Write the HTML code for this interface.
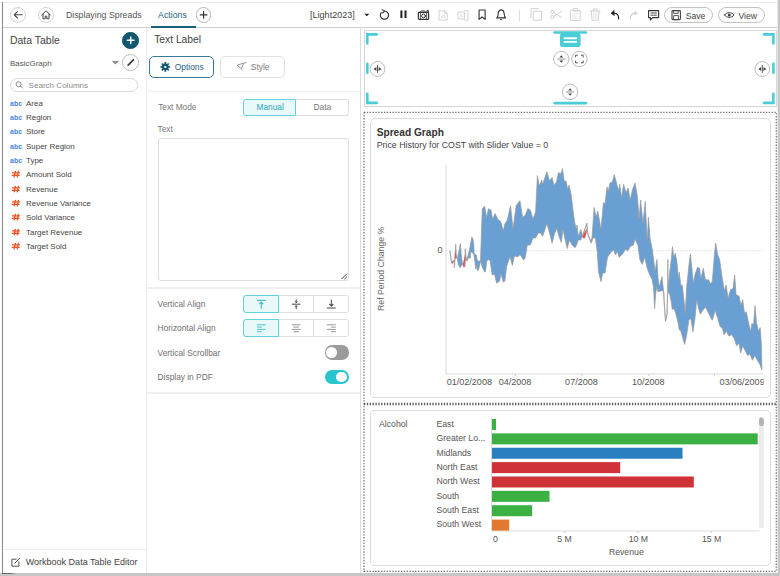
<!DOCTYPE html>
<html><head><meta charset="utf-8"><title>Displaying Spreads</title>
<style>
html,body{margin:0;padding:0;background:#fff}
body{width:780px;height:576px;position:relative;overflow:hidden;font-family:"Liberation Sans",sans-serif}
.b{position:absolute;display:block}
.t{position:absolute;white-space:nowrap;line-height:1;font-family:"Liberation Sans",sans-serif}
</style></head><body>
<div class="b" style="left:0;top:2px;width:778px;height:1px;background:#ececec"></div>
<div class="b" style="left:2px;top:2px;width:1px;height:571px;background:#85888c"></div>
<div class="b" style="left:777px;top:0;width:3px;height:576px;background:linear-gradient(90deg,#e9e9e9 0,#e9e9e9 33%,#c6c6c6 33%)"></div>
<div class="b" style="left:0;top:573px;width:780px;height:3px;background:#c6c6c6"></div>
<div class="b" style="left:2px;top:573px;width:14px;height:1px;background:linear-gradient(90deg,#666,#666 60%,#c6c6c6)"></div>
<div class="b" style="left:3px;top:27px;width:775px;height:1px;background:#cfcfcf"></div>
<div class="b" style="left:151px;top:25.7px;width:44.8px;height:2px;background:#1b5e7a"></div>
<div class="b" style="left:10.0px;top:6.6px;width:16.4px;height:16.4px;border-radius:50%;border:1px solid #d4d4d4;background:#fff;box-sizing:border-box"></div>
<div class="b" style="left:37.8px;top:6.6px;width:16.4px;height:16.4px;border-radius:50%;border:1px solid #d4d4d4;background:#fff;box-sizing:border-box"></div>
<div class="b" style="left:195.7px;top:6.9px;width:15.8px;height:15.8px;border-radius:50%;border:1px solid #b8b8b8;background:#fff;box-sizing:border-box"></div>
<div class="t" style="left:65.9px;top:11.00px;font-size:8.80px;color:#555;">Displaying Spreads</div>
<div class="t" style="left:158.1px;top:11.00px;font-size:8.78px;color:#1d6480;">Actions</div>
<div class="t" style="left:310.0px;top:11.00px;font-size:9.07px;color:#444;">[Light2023]</div>
<div class="b" style="left:663.9px;top:6.8px;width:48.8px;height:16.5px;border:1px solid #c2c2c2;border-radius:9px;box-sizing:border-box"></div>
<div class="b" style="left:717.5px;top:6.8px;width:47.3px;height:16.5px;border:1px solid #c2c2c2;border-radius:9px;box-sizing:border-box"></div>
<div class="t" style="left:685.7px;top:12.00px;font-size:8.65px;color:#444;">Save</div>
<div class="t" style="left:738.4px;top:12.00px;font-size:8.65px;color:#444;">View</div>
<div class="b" style="left:519px;top:10px;width:1px;height:11px;background:#dcdcdc"></div>
<svg class="b" style="left:0;top:0" width="780" height="28" viewBox="0 0 780 28" fill="none" stroke-linecap="round" stroke-linejoin="round">
<!-- back arrow -->
<path d="M22.3 14.8H14.2M17.4 11.6L14.2 14.8L17.4 18" stroke="#444" stroke-width="1.1"/>
<!-- home -->
<path d="M41.6 15L46 10.8L50.4 15M43 14.2V18.8H45.2V16.2H46.8V18.8H49V14.2" stroke="#444" stroke-width="1"/>
<!-- plus -->
<path d="M200.2 14.8H207M203.6 11.4V18.2" stroke="#333" stroke-width="1.2"/>
<!-- caret -->
<path d="M364.2 13.8H369.4L366.8 16.2Z" fill="#222" stroke="none"/>
<!-- refresh -->
<path d="M381.2 12.6A4.1 4.1 0 1 0 384.3 11" stroke="#333" stroke-width="1.2"/>
<path d="M382.2 9.6L384.6 11.1L382.6 13" stroke="#333" stroke-width="1.1"/>
<!-- pause -->
<path d="M401.4 10.6V18.1M405.5 10.6V18.1" stroke="#222" stroke-width="2" stroke-linecap="butt"/>
<!-- camera -->
<rect x="418.4" y="12.4" width="10.2" height="7" rx="0.8" stroke="#333" stroke-width="1.2"/>
<circle cx="423.5" cy="15.9" r="1.9" stroke="#333" stroke-width="1"/>
<path d="M420.4 12.4V19.4M426.6 12.4V19.4" stroke="#333" stroke-width="0.8"/>
<path d="M420.4 12.2L421.2 10.9H424.6L425.4 12.2M427 12V10.4H428.4V12" stroke="#333" stroke-width="0.9"/>
<!-- pdf (disabled) -->
<path d="M439.4 10.8H444.6L447.2 13.4V20H439.4Z M444.6 10.8V13.4H447.2" stroke="#d2d2d2" stroke-width="1"/>
<path d="M441.4 18L443.4 14.4L445.4 17.4H441.4" stroke="#e3c9c9" stroke-width="0.7"/>
<!-- excel (disabled) -->
<rect x="458.4" y="12" width="6" height="7" stroke="#d2d2d2" stroke-width="1"/>
<path d="M464.4 10.8H468V20.2H464.4" stroke="#d2d2d2" stroke-width="1"/>
<path d="M460 13.8L462.8 17.2M462.8 13.8L460 17.2" stroke="#d8d8d8" stroke-width="0.8"/>
<!-- bookmark -->
<path d="M479.1 10H485.1V19.4L482.1 17L479.1 19.4Z" stroke="#333" stroke-width="1.1"/>
<!-- bell -->
<path d="M496.8 17.9C498.4 16.6 498 14.4 498.4 12.6C498.8 11 499.9 9.9 501.2 9.9C502.5 9.9 503.6 11 504 12.6C504.4 14.4 504 16.6 505.6 17.9Z" stroke="#333" stroke-width="1.1"/>
<path d="M500.2 19.3C500.6 20 501.8 20 502.2 19.3" stroke="#333" stroke-width="1"/>
<!-- copy (disabled) -->
<path d="M531 17.6V8.6H538.4" stroke="#d2d2d2" stroke-width="1"/>
<rect x="533.6" y="11.2" width="8" height="9" stroke="#d2d2d2" stroke-width="1"/>
<!-- scissors (disabled) -->
<circle cx="552.2" cy="11.8" r="1.6" stroke="#d2d2d2" stroke-width="1"/>
<circle cx="552.2" cy="17" r="1.6" stroke="#d2d2d2" stroke-width="1"/>
<path d="M553.6 12.6L561.8 17.6M553.6 16.2L561.8 11.2" stroke="#d2d2d2" stroke-width="1"/>
<!-- clipboard (disabled) -->
<rect x="570.8" y="10.4" width="9.4" height="10" stroke="#d2d2d2" stroke-width="1"/>
<rect x="573.6" y="8.6" width="3.8" height="2.6" stroke="#d2d2d2" stroke-width="1"/>
<path d="M572.8 14H578M572.8 16H576.4M572.8 18H577" stroke="#dcdcdc" stroke-width="0.8"/>
<!-- trash (disabled) -->
<path d="M590.2 11H600.2M593.4 10.8V9H597V10.8M591.4 11.6L592 20.2H598.4L599 11.6" stroke="#d2d2d2" stroke-width="1"/>
<path d="M593.6 13V18.4M595.2 13V18.4M596.8 13V18.4" stroke="#dedede" stroke-width="0.8"/>
<!-- undo -->
<path d="M612 13.2H614.6C617.4 13.4 618.8 15.8 618.6 19" stroke="#222" stroke-width="1.15"/>
<path d="M614 10.4L611 13.2L614.2 15.4Z" fill="#222" stroke="#222" stroke-width="0.5"/>
<!-- redo (disabled) -->
<path d="M637 13.4H634C631.6 13.6 630.4 15.8 630.4 19" stroke="#cfcfcf" stroke-width="1.1"/>
<path d="M634.6 10.8L637.4 13.4L634.4 15.6Z" fill="#cfcfcf" stroke="none"/>
<!-- comment -->
<path d="M648.6 10.6H658.6V17.6H652.6L650.4 20V17.6H648.6Z" stroke="#333" stroke-width="1.1"/>
<path d="M651 13H656.4M651 15.2H653M654 15.2H656.4" stroke="#333" stroke-width="0.9"/>
<!-- save icon -->
<rect x="672" y="10.6" width="8.4" height="9" rx="0.8" stroke="#444" stroke-width="1.1"/>
<rect x="674" y="10.6" width="4.2" height="2.8" stroke="#444" stroke-width="0.9"/>
<rect x="674" y="15.6" width="4.4" height="4" stroke="#444" stroke-width="0.9"/>
<!-- eye icon -->
<path d="M724.6 15C726.6 11.8 731.8 11.8 734 15C731.8 18.2 726.6 18.2 724.6 15Z" stroke="#444" stroke-width="1"/>
<circle cx="729.3" cy="15" r="1.5" fill="#444" stroke="none"/>
</svg>
<div class="b" style="left:145.5px;top:28px;width:1.5px;height:545px;background:#ededed"></div>
<div class="t" style="left:10.0px;top:36.00px;font-size:10.46px;color:#444;">Data Table</div>
<div class="b" style="left:122.4px;top:32.0px;width:16.6px;height:16.6px;border-radius:50%;border:1px solid #11566f;background:#11566f;box-sizing:border-box"></div>
<div class="b" style="left:122.4px;top:54.2px;width:16.6px;height:16.6px;border-radius:50%;border:1px solid #bdbdbd;background:#fff;box-sizing:border-box"></div>
<div class="t" style="left:10.0px;top:60.00px;font-size:7.98px;color:#555;">BasicGraph</div>
<div class="b" style="left:10px;top:77.6px;width:128.2px;height:14.6px;border:1px solid #d9d9d9;border-radius:8px;box-sizing:border-box"></div>
<div class="t" style="left:28.6px;top:82.00px;font-size:8.06px;color:#8a8a8a;">Search Columns</div>
<svg class="b" style="left:100px;top:30px" width="46" height="66" viewBox="100 30 46 66" fill="none" stroke-linecap="round">
<path d="M127.4 40.3H134M130.7 37V43.6" stroke="#fff" stroke-width="1.5"/>
<path d="M111.8 60.9H119L115.4 64.6Z" fill="#8d8d8d"/>
<path d="M127.2 66L127.8 64.2L133.3 58.7L134.5 59.9L129 65.4Z" fill="#333"/>
</svg>
<svg class="b" style="left:12px;top:78px" width="16" height="14" viewBox="12 78 16 14" fill="none">
<circle cx="18.6" cy="84.2" r="2.5" stroke="#8a8a8a" stroke-width="1"/><path d="M20.5 86.1L22.4 88" stroke="#8a8a8a" stroke-width="1" stroke-linecap="round"/></svg>
<div class="t" style="left:10.0px;top:101.00px;font-size:7.08px;color:#4a86e8;font-weight:bold;">abc</div>
<div class="t" style="left:26.0px;top:100.00px;font-size:7.98px;color:#444;">Area</div>
<div class="t" style="left:10.0px;top:115.00px;font-size:7.08px;color:#4a86e8;font-weight:bold;">abc</div>
<div class="t" style="left:26.0px;top:114.00px;font-size:7.98px;color:#444;">Region</div>
<div class="t" style="left:10.0px;top:129.00px;font-size:7.08px;color:#4a86e8;font-weight:bold;">abc</div>
<div class="t" style="left:26.0px;top:128.00px;font-size:7.98px;color:#444;">Store</div>
<div class="t" style="left:10.0px;top:144.00px;font-size:7.08px;color:#4a86e8;font-weight:bold;">abc</div>
<div class="t" style="left:26.0px;top:143.00px;font-size:7.98px;color:#444;">Super Region</div>
<div class="t" style="left:10.0px;top:158.00px;font-size:7.08px;color:#4a86e8;font-weight:bold;">abc</div>
<div class="t" style="left:26.0px;top:157.00px;font-size:7.98px;color:#444;">Type</div>
<div class="t" style="left:26.0px;top:171.00px;font-size:7.98px;color:#444;">Amount Sold</div>
<div class="t" style="left:26.0px;top:186.00px;font-size:7.98px;color:#444;">Revenue</div>
<div class="t" style="left:26.0px;top:200.00px;font-size:7.98px;color:#444;">Revenue Variance</div>
<div class="t" style="left:26.0px;top:214.00px;font-size:7.98px;color:#444;">Sold Variance</div>
<div class="t" style="left:26.0px;top:229.00px;font-size:7.98px;color:#444;">Target Revenue</div>
<div class="t" style="left:26.0px;top:243.00px;font-size:7.98px;color:#444;">Target Sold</div>
<svg class="b" style="left:10px;top:165px" width="12" height="90" viewBox="10 165 12 90" fill="none" stroke="#f4511e" stroke-width="1.3"><path d="M12 172.8H19.9M11.7 175.3H19.6M15.4 170.8L14.1 177.4M18.5 170.8L17.2 177.4"/><path d="M12 187.8H19.9M11.7 190.3H19.6M15.4 185.8L14.1 192.4M18.5 185.8L17.2 192.4"/><path d="M12 201.8H19.9M11.7 204.3H19.6M15.4 199.8L14.1 206.4M18.5 199.8L17.2 206.4"/><path d="M12 215.8H19.9M11.7 218.3H19.6M15.4 213.8L14.1 220.4M18.5 213.8L17.2 220.4"/><path d="M12 230.8H19.9M11.7 233.3H19.6M15.4 228.8L14.1 235.4M18.5 228.8L17.2 235.4"/><path d="M12 244.8H19.9M11.7 247.3H19.6M15.4 242.8L14.1 249.4M18.5 242.8L17.2 249.4"/></svg>
<div class="b" style="left:4px;top:549px;width:141.5px;height:1px;background:#efefef"></div>
<div class="t" style="left:25.7px;top:558.00px;font-size:9.02px;color:#444;">Workbook Data Table Editor</div>
<svg class="b" style="left:10px;top:556px" width="12" height="12" viewBox="10 556 12 12" fill="none" stroke="#555" stroke-width="1" stroke-linecap="round" stroke-linejoin="round">
<path d="M16.2 559.2H11.9V566.2H18.9V562"/><path d="M15 563L19.6 558.2"/></svg>
<div class="t" style="left:154.2px;top:35.00px;font-size:10.29px;color:#444;">Text Label</div>
<div class="b" style="left:149.1px;top:55.5px;width:65.1px;height:22.2px;border:1px solid #3a7a93;border-radius:5px;box-sizing:border-box"></div>
<div class="b" style="left:220.3px;top:55.6px;width:65.1px;height:22px;border:1px solid #e2e2e2;border-radius:5px;box-sizing:border-box"></div>
<div class="t" style="left:174.7px;top:63.00px;font-size:8.44px;color:#1d6480;">Options</div>
<div class="t" style="left:250.8px;top:63.00px;font-size:8.44px;color:#7a7a7a;">Style</div>
<svg class="b" style="left:158px;top:60px" width="95" height="14" viewBox="158 60 95 14" fill="none">
<g transform="translate(165.3 66.9)"><circle r="2.2" fill="none" stroke="#11566f" stroke-width="2.4"/><g stroke="#11566f" stroke-width="1.7" stroke-linecap="butt">
<path d="M0 -4.8V-3M0 4.8V3M-4.8 0H-3M4.8 0H3M-3.4 -3.4L-2.1 -2.1M3.4 3.4L2.1 2.1M-3.4 3.4L-2.1 2.1M3.4 -3.4L2.1 -2.1"/></g><circle r="1" fill="#fff"/></g>
<path d="M237 65.2L243.6 63.2L241.4 68.6L239.4 67.2ZM243.6 63.2L246.4 62.4M241.2 68.8L242.6 70.4" stroke="#8a8a8a" stroke-width="0.9" stroke-linejoin="round"/>
</svg>
<div class="b" style="left:147px;top:90.5px;width:213px;height:1.5px;background:#efefef"></div>
<div class="b" style="left:147px;top:287px;width:213px;height:1.5px;background:#efefef"></div>
<div class="b" style="left:147px;top:392px;width:213px;height:1.5px;background:#efefef"></div>
<div class="b" style="left:360px;top:28px;width:1px;height:545px;background:#dcdcdc"></div>
<div class="t" style="left:158.2px;top:103.00px;font-size:8.30px;color:#777;">Text Mode</div>
<div class="b" style="left:296.4px;top:98.7px;width:52.3px;height:16.9px;border:1px solid #dedede;border-left:none;border-radius:0 3px 3px 0;box-sizing:border-box"></div>
<div class="b" style="left:243.2px;top:98.7px;width:53.2px;height:16.9px;border:1px solid #62d2da;background:#e9f9fa;border-radius:3px 0 0 3px;box-sizing:border-box"></div>
<div class="t" style="left:256.5px;top:103.00px;font-size:8.35px;color:#2ba7b6;">Manual</div>
<div class="t" style="left:313.5px;top:103.00px;font-size:8.35px;color:#777;">Data</div>
<div class="t" style="left:157.5px;top:125.00px;font-size:8.30px;color:#777;">Text</div>
<div class="b" style="left:157.5px;top:137.7px;width:191.2px;height:143.6px;border:1px solid #dcdcdc;border-radius:3px;box-sizing:border-box"></div>
<svg class="b" style="left:340px;top:272px" width="8" height="8" viewBox="340 272 8 8" style="overflow:visible"><path d="M341.6 279L346.8 273.8M344.4 279.2L347 276.6" stroke="#333" stroke-width="0.9"/></svg>
<div class="t" style="left:157.6px;top:300.00px;font-size:8.35px;color:#707070;">Vertical Align</div>
<div class="t" style="left:157.6px;top:324.00px;font-size:8.35px;color:#707070;">Horizontal Align</div>
<div class="t" style="left:157.6px;top:349.00px;font-size:8.35px;color:#707070;">Vertical Scrollbar</div>
<div class="t" style="left:157.6px;top:373.00px;font-size:8.35px;color:#707070;">Display in PDF</div>
<div class="b" style="left:243.3px;top:295.2px;width:105.4px;height:17.6px;border:1px solid #dedede;border-radius:3px;box-sizing:border-box"></div>
<div class="b" style="left:313.4px;top:295.2px;width:1px;height:17.6px;background:#dedede"></div>
<div class="b" style="left:243.3px;top:295.2px;width:35.8px;height:17.6px;border:1px solid #62d2da;background:#e9f9fa;border-radius:3px 0 0 3px;box-sizing:border-box"></div>
<div class="b" style="left:243.3px;top:319.2px;width:105.4px;height:17.6px;border:1px solid #dedede;border-radius:3px;box-sizing:border-box"></div>
<div class="b" style="left:313.4px;top:319.2px;width:1px;height:17.6px;background:#dedede"></div>
<div class="b" style="left:243.3px;top:319.2px;width:35.8px;height:17.6px;border:1px solid #62d2da;background:#e9f9fa;border-radius:3px 0 0 3px;box-sizing:border-box"></div>
<svg class="b" style="left:243px;top:295px" width="106" height="42" viewBox="243 295 106 42" fill="none" stroke-linecap="butt">
<g stroke="#2bb3c0" stroke-width="1"><path d="M257 300.3H265.6M261.3 302.4V308.6"/><path d="M259.4 304.2L261.3 302.2L263.2 304.2" stroke-width="1.1"/></g>
<g stroke="#444" stroke-width="1"><path d="M291.8 304.2H300.6"/><path d="M296.2 299.4V302.6M296.2 305.8V309"/><path d="M294.9 301.3L296.2 302.8L297.5 301.3M294.9 307.1L296.2 305.6L297.5 307.1" stroke-width="0.9"/></g>
<g stroke="#444" stroke-width="1"><path d="M326.8 308H335.8M331.3 299.6V305.8"/><path d="M329.4 304L331.3 306L333.2 304" stroke-width="1.1"/></g>
<g stroke="#3cc0cb" stroke-width="0.9"><path d="M257 324.8H265.6M257 327.1H261.8M257 329.4H265.6M257 331.7H261.8"/></g>
<g stroke="#8a8a8a" stroke-width="0.9"><path d="M291.8 324.8H300.6M293.4 327.1H299M291.8 329.4H300.6M293.4 331.7H299"/></g>
<g stroke="#8a8a8a" stroke-width="0.9"><path d="M326.8 324.8H335.8M331 327.1H335.8M326.8 329.4H335.8M331 331.7H335.8"/></g>
</svg>
<div class="b" style="left:324.5px;top:345.2px;width:24.2px;height:14.4px;border-radius:7.2px;background:#9b9b9b"></div>
<div class="b" style="left:326.2px;top:347px;width:10.8px;height:10.8px;border-radius:50%;background:#fff"></div>
<div class="b" style="left:324.5px;top:369.7px;width:24.2px;height:14.4px;border-radius:7.2px;background:#29c5cf"></div>
<div class="b" style="left:336.3px;top:371.5px;width:10.8px;height:10.8px;border-radius:50%;background:#fff"></div>
<div class="b" style="left:364px;top:30px;width:413px;height:77px;border:1px solid #d6d6d6;box-sizing:border-box"></div>
<svg class="b" style="left:364px;top:30px" width="414" height="78" viewBox="364 30 414 78" fill="none">
<g stroke="#49cdd6" stroke-width="2.6" stroke-linecap="round" stroke-linejoin="miter">
<path d="M367.3 43.5V34.4H376.8"/><path d="M367.3 93.8V102.9H376.8"/>
<path d="M773.4 43.5V34.4H764"/><path d="M773.4 93.8V102.9H764"/>
<path d="M367.3 63.8V72.8"/><path d="M773.4 63.8V72.8"/>
<path d="M554.6 32.5H586"/><path d="M554.6 103.1H586"/>
</g>
<rect x="560" y="33.1" width="20.6" height="14" rx="3.2" fill="#49cdd6"/>
<path d="M564.4 38.3H576.4M564.4 41.9H576.4" stroke="#fff" stroke-width="1.9" stroke-linecap="round"/>
<g stroke="#bdbdbd" stroke-width="1" fill="#fff"><circle cx="377.5" cy="69" r="7.4"/><circle cx="762.3" cy="69" r="7.4"/><circle cx="561.3" cy="59" r="7.7"/><circle cx="579.4" cy="59" r="7.7"/><circle cx="570.1" cy="91.9" r="7.7"/></g>
<g stroke="#444" stroke-width="0.9"><path d="M377.5 65.2V72.8M762.3 65.2V72.8"/><path d="M557.2 59.05H565.4M566 91.95H574.2" stroke="#8a8a8a"/></g>
<g fill="#444"><path d="M376.4 66.9V71.1L373.5 69ZM378.6 66.9V71.1L381.5 69Z"/><path d="M761.2 66.9V71.1L758.3 69ZM763.4 66.9V71.1L766.3 69Z"/>
<path d="M559.4 57.6H563.2L561.3 55.3ZM559.4 60.5H563.2L561.3 62.8Z"/><path d="M568.2 90.5H572L570.1 88.2ZM568.2 93.4H572L570.1 95.7Z"/></g>
<path d="M575.6 57.4V55.2H577.8M581 55.2H583.2V57.4M583.2 60.6V62.8H581M577.8 62.8H575.6V60.6" stroke="#444" stroke-width="0.9"/>
</svg>
<svg class="b" style="left:360px;top:108px" width="420" height="468" viewBox="360 108 420 468" fill="none" stroke="#6e6e6e" stroke-width="1.25" stroke-dasharray="1.35 1.5">
<rect x="364" y="112.3" width="412.3" height="459.1"/><path d="M364 404H776.3" stroke-width="2.5" stroke="#5e5e5e"/></svg>
<div class="b" style="left:370px;top:118px;width:401px;height:280px;border:1px solid #dcdcdc;border-radius:5px;box-sizing:border-box"></div>
<div class="b" style="left:370px;top:410px;width:401px;height:156px;border:1px solid #dcdcdc;border-radius:5px;box-sizing:border-box"></div>
<div class="t" style="left:376.7px;top:128.00px;font-size:10.16px;color:#333;font-weight:bold;">Spread Graph</div>
<div class="t" style="left:376.7px;top:141.00px;font-size:8.81px;color:#444;">Price History for COST with Slider Value = 0</div>
<svg class="b" style="left:371px;top:150px" width="399" height="245" viewBox="371 150 399 245" font-family="Liberation Sans, sans-serif">
<defs><clipPath id="cx"><rect x="700" y="370" width="63.8" height="20"/></clipPath></defs>
<path d="M446 164.5V374H763" stroke="#d9d9d9" stroke-width="1" fill="none"/>
<path d="M446 250.7H763" stroke="#d4d4d4" stroke-width="0.8" stroke-dasharray="1.5 1.5" fill="none"/>
<path d="M515.4 374V376M582 374V376M648.9 374V376M714.6 374V376" stroke="#d0d0d0" stroke-width="1"/>
<polygon points="449.9,250.8 451.4,261.3 452.1,263.4 453.8,260.4 454.4,263.0 455.4,251.7 455.7,244.3 456.5,257.8 457.3,258.6 459.0,250.8 460.3,243.5 461.2,254.0 462.3,262.5 462.9,263.9 463.8,266.9 464.7,266.5 465.3,248.7 466.0,257.0 467.0,259.5 469.0,251.7 469.9,247.4 471.8,236.9 472.9,238.7 473.8,243.9 474.2,253.4 475.5,254.7 476.4,255.2 477.2,260.4 479.0,261.2 480.5,260.6 481.2,240.0 481.7,225.0 482.3,209.0 484.6,206.0 486.7,217.8 488.4,208.8 491.0,210.0 492.7,219.5 495.0,213.4 498.0,219.5 500.6,221.3 503.2,230.8 504.9,223.9 507.5,219.5 510.5,205.6 513.0,229.0 516.2,205.6 519.7,200.8 520.0,200.8 522.6,217.3 525.2,215.5 527.8,208.6 530.4,210.3 533.0,219.0 535.6,212.0 537.4,175.6 539.4,186.0 541.7,180.0 542.6,184.3 546.9,171.8 549.5,180.8 552.1,177.4 553.9,185.2 556.5,181.7 558.5,172.5 560.8,173.9 562.5,168.7 564.3,181.7 566.0,180.8 567.7,189.5 569.0,185.2 571.2,194.7 573.0,210.3 574.7,222.5 576.4,229.4 577.0,225.0 578.2,236.4 580.8,229.4 582.5,236.4 586.8,223.4 587.7,233.0 590.3,240.7 592.0,238.0 594.1,207.4 596.1,217.2 597.8,211.0 601.0,229.3 603.4,202.6 605.0,203.8 607.0,186.8 608.2,191.6 610.0,183.0 612.4,181.9 614.3,174.6 616.8,184.3 618.7,190.4 619.7,184.3 621.6,197.7 623.6,184.3 626.0,192.8 628.2,188.0 630.1,200.0 632.6,189.2 635.0,183.0 637.4,196.5 639.1,218.4 640.6,200.0 643.0,223.3 645.2,201.4 647.2,241.5 648.4,217.2 650.0,237.9 652.3,249.6 653.5,258.7 655.0,271.2 656.9,259.5 658.1,279.0 659.2,286.8 660.5,282.0 662.0,276.7 663.6,291.5 664.4,305.5 665.5,321.1 667.0,314.9 667.6,295.0 667.8,259.5 668.2,288.0 669.8,271.2 671.4,258.7 672.5,246.6 673.7,257.2 675.3,253.3 676.9,261.8 678.4,279.0 679.2,272.0 680.8,285.2 682.3,285.2 684.2,302.4 685.2,314.0 686.2,296.0 686.7,287.0 688.8,266.3 690.4,253.8 691.9,268.3 693.3,283.0 695.0,274.6 697.5,267.3 699.6,268.3 700.8,278.8 703.3,268.3 705.4,279.8 708.5,279.8 710.6,284.0 712.3,281.3 714.2,257.0 715.7,243.0 717.6,254.6 719.6,259.4 722.0,276.5 724.4,291.0 726.1,285.0 728.1,298.3 730.5,289.8 733.0,288.6 734.7,275.2 736.1,294.7 739.0,296.0 741.0,305.6 742.7,299.6 744.4,313.0 746.3,311.7 748.8,323.9 750.7,331.2 751.7,323.9 753.6,323.9 755.0,305.6 756.5,322.6 758.5,331.2 760.2,327.5 761.4,344.5 761.9,370.0 761.9,370.0 759.7,364.0 757.3,360.3 754.8,355.5 752.4,360.3 750.0,354.2 747.5,355.5 745.1,350.6 742.7,345.7 740.7,353.0 739.0,343.3 736.6,345.7 734.2,338.4 731.7,334.8 728.8,336.0 726.4,331.2 724.0,334.8 722.5,328.7 720.0,326.3 717.6,317.8 715.2,310.5 712.3,320.2 711.7,319.4 708.5,313.0 705.4,306.9 702.3,311.0 700.2,314.2 698.8,309.0 696.7,299.6 695.0,318.3 692.9,331.9 690.8,318.3 688.8,320.4 686.7,335.0 684.6,344.4 682.5,337.0 680.4,329.8 679.2,329.9 678.4,324.2 676.9,318.0 675.3,311.8 673.7,308.6 672.2,309.4 671.4,302.4 669.8,294.6 668.3,291.5 667.6,295.0 667.0,314.9 665.5,321.1 664.4,305.5 663.6,291.5 662.8,291.0 661.0,290.7 659.5,291.5 657.8,291.5 656.9,286.8 655.8,293.0 654.6,308.6 653.5,286.8 652.0,279.2 649.6,274.4 647.2,268.3 644.7,257.3 642.3,264.6 639.9,259.8 637.9,245.2 635.0,239.0 633.3,245.2 630.1,246.4 627.7,251.2 626.0,248.8 622.8,253.7 619.2,257.3 617.3,251.2 615.5,255.0 613.6,250.0 610.7,252.5 607.5,257.3 605.0,273.0 602.7,273.0 601.0,281.7 598.5,272.0 597.3,252.5 595.4,237.9 592.9,238.0 591.2,243.3 588.6,236.4 587.7,233.0 586.8,223.4 582.5,236.4 582.0,236.4 580.8,240.0 578.2,240.0 577.3,243.3 575.2,247.7 572.0,245.0 569.5,240.0 567.2,248.5 564.8,238.0 563.0,229.4 561.3,242.5 559.0,236.4 556.8,228.6 554.7,233.0 552.1,243.3 549.5,233.0 546.9,223.4 542.6,236.4 540.8,233.0 538.2,233.0 535.6,238.0 533.0,238.0 530.4,245.0 527.3,245.0 525.2,258.0 523.5,260.0 520.0,254.6 518.0,256.8 514.4,256.0 512.4,265.5 510.0,256.8 506.6,266.4 504.9,281.0 503.2,282.0 500.9,273.3 499.7,281.0 496.6,283.2 494.5,274.0 492.2,275.0 490.0,260.4 488.1,259.5 486.8,261.3 485.5,271.7 484.6,272.1 482.0,266.5 480.7,260.6 479.8,264.7 478.5,270.0 477.2,270.4 476.4,264.7 475.5,269.0 475.1,263.0 473.8,254.3 472.0,252.6 470.7,251.7 470.3,258.0 468.6,257.8 466.8,261.3 466.4,260.8 465.5,258.0 464.7,266.5 463.8,266.9 462.9,263.9 462.1,264.7 459.9,267.8 458.2,263.9 457.3,258.6 456.5,257.8 455.7,258.6 455.4,251.7 454.4,267.8 453.8,260.4 452.1,263.4 451.4,261.3 449.9,250.8" fill="#699fd2" stroke="none"/>
<polyline points="449.9,250.8 451.4,261.3 452.1,263.4 453.8,260.4 454.4,263.0 455.4,251.7 455.7,244.3 456.5,257.8 457.3,258.6 459.0,250.8 460.3,243.5 461.2,254.0 462.3,262.5 462.9,263.9 463.8,266.9 464.7,266.5 465.3,248.7 466.0,257.0 467.0,259.5 469.0,251.7 469.9,247.4 471.8,236.9 472.9,238.7 473.8,243.9 474.2,253.4 475.5,254.7 476.4,255.2 477.2,260.4 479.0,261.2 480.5,260.6 481.2,240.0 481.7,225.0 482.3,209.0 484.6,206.0 486.7,217.8 488.4,208.8 491.0,210.0 492.7,219.5 495.0,213.4 498.0,219.5 500.6,221.3 503.2,230.8 504.9,223.9 507.5,219.5 510.5,205.6 513.0,229.0 516.2,205.6 519.7,200.8 520.0,200.8 522.6,217.3 525.2,215.5 527.8,208.6 530.4,210.3 533.0,219.0 535.6,212.0 537.4,175.6 539.4,186.0 541.7,180.0 542.6,184.3 546.9,171.8 549.5,180.8 552.1,177.4 553.9,185.2 556.5,181.7 558.5,172.5 560.8,173.9 562.5,168.7 564.3,181.7 566.0,180.8 567.7,189.5 569.0,185.2 571.2,194.7 573.0,210.3 574.7,222.5 576.4,229.4 577.0,225.0 578.2,236.4 580.8,229.4 582.5,236.4 586.8,223.4 587.7,233.0 590.3,240.7 592.0,238.0 594.1,207.4 596.1,217.2 597.8,211.0 601.0,229.3 603.4,202.6 605.0,203.8 607.0,186.8 608.2,191.6 610.0,183.0 612.4,181.9 614.3,174.6 616.8,184.3 618.7,190.4 619.7,184.3 621.6,197.7 623.6,184.3 626.0,192.8 628.2,188.0 630.1,200.0 632.6,189.2 635.0,183.0 637.4,196.5 639.1,218.4 640.6,200.0 643.0,223.3 645.2,201.4 647.2,241.5 648.4,217.2 650.0,237.9 652.3,249.6 653.5,258.7 655.0,271.2 656.9,259.5 658.1,279.0 659.2,286.8 660.5,282.0 662.0,276.7 663.6,291.5 664.4,305.5 665.5,321.1 667.0,314.9 667.6,295.0 667.8,259.5 668.2,288.0 669.8,271.2 671.4,258.7 672.5,246.6 673.7,257.2 675.3,253.3 676.9,261.8 678.4,279.0 679.2,272.0 680.8,285.2 682.3,285.2 684.2,302.4 685.2,314.0 686.2,296.0 686.7,287.0 688.8,266.3 690.4,253.8 691.9,268.3 693.3,283.0 695.0,274.6 697.5,267.3 699.6,268.3 700.8,278.8 703.3,268.3 705.4,279.8 708.5,279.8 710.6,284.0 712.3,281.3 714.2,257.0 715.7,243.0 717.6,254.6 719.6,259.4 722.0,276.5 724.4,291.0 726.1,285.0 728.1,298.3 730.5,289.8 733.0,288.6 734.7,275.2 736.1,294.7 739.0,296.0 741.0,305.6 742.7,299.6 744.4,313.0 746.3,311.7 748.8,323.9 750.7,331.2 751.7,323.9 753.6,323.9 755.0,305.6 756.5,322.6 758.5,331.2 760.2,327.5 761.4,344.5 761.9,370.0" fill="none" stroke="#9a9a9a" stroke-width="0.7" stroke-linejoin="round"/>
<polyline points="449.9,250.8 451.4,261.3 452.1,263.4 453.8,260.4 454.4,267.8 455.4,251.7 455.7,258.6 456.5,257.8 457.3,258.6 458.2,263.9 459.9,267.8 462.1,264.7 462.9,263.9 463.8,266.9 464.7,266.5 465.5,258.0 466.4,260.8 466.8,261.3 468.6,257.8 470.3,258.0 470.7,251.7 472.0,252.6 473.8,254.3 475.1,263.0 475.5,269.0 476.4,264.7 477.2,270.4 478.5,270.0 479.8,264.7 480.7,260.6 482.0,266.5 484.6,272.1 485.5,271.7 486.8,261.3 488.1,259.5 490.0,260.4 492.2,275.0 494.5,274.0 496.6,283.2 499.7,281.0 500.9,273.3 503.2,282.0 504.9,281.0 506.6,266.4 510.0,256.8 512.4,265.5 514.4,256.0 518.0,256.8 520.0,254.6 523.5,260.0 525.2,258.0 527.3,245.0 530.4,245.0 533.0,238.0 535.6,238.0 538.2,233.0 540.8,233.0 542.6,236.4 546.9,223.4 549.5,233.0 552.1,243.3 554.7,233.0 556.8,228.6 559.0,236.4 561.3,242.5 563.0,229.4 564.8,238.0 567.2,248.5 569.5,240.0 572.0,245.0 575.2,247.7 577.3,243.3 578.2,240.0 580.8,240.0 582.0,236.4 582.5,236.4 586.8,223.4 587.7,233.0 588.6,236.4 591.2,243.3 592.9,238.0 595.4,237.9 597.3,252.5 598.5,272.0 601.0,281.7 602.7,273.0 605.0,273.0 607.5,257.3 610.7,252.5 613.6,250.0 615.5,255.0 617.3,251.2 619.2,257.3 622.8,253.7 626.0,248.8 627.7,251.2 630.1,246.4 633.3,245.2 635.0,239.0 637.9,245.2 639.9,259.8 642.3,264.6 644.7,257.3 647.2,268.3 649.6,274.4 652.0,279.2 653.5,286.8 654.6,308.6 655.8,293.0 656.9,286.8 657.8,291.5 659.5,291.5 661.0,290.7 662.8,291.0 663.6,291.5 664.4,305.5 665.5,321.1 667.0,314.9 667.6,295.0 668.3,291.5 669.8,294.6 671.4,302.4 672.2,309.4 673.7,308.6 675.3,311.8 676.9,318.0 678.4,324.2 679.2,329.9 680.4,329.8 682.5,337.0 684.6,344.4 686.7,335.0 688.8,320.4 690.8,318.3 692.9,331.9 695.0,318.3 696.7,299.6 698.8,309.0 700.2,314.2 702.3,311.0 705.4,306.9 708.5,313.0 711.7,319.4 712.3,320.2 715.2,310.5 717.6,317.8 720.0,326.3 722.5,328.7 724.0,334.8 726.4,331.2 728.8,336.0 731.7,334.8 734.2,338.4 736.6,345.7 739.0,343.3 740.7,353.0 742.7,345.7 745.1,350.6 747.5,355.5 750.0,354.2 752.4,360.3 754.8,355.5 757.3,360.3 759.7,364.0 761.9,370.0" fill="none" stroke="#9a9a9a" stroke-width="0.7" stroke-linejoin="round"/>
<path d="M582.5 236.6L584.6 232L586.9 228.2L586.5 233L585.1 238.2L582.8 238.2Z" fill="#e0564d"/>
<path d="M451.4 261.3L453.8 260.4L452.1 263.6Z" fill="#e0564d"/>
<path d="M455.4 251.5L456.5 257.8L455.6 258.8L454.9 256Z" fill="#e0564d"/>
<path d="M462.9 263.9L464.7 256L465.4 252.6L464.8 266.5L463.8 266.9Z" fill="#e0564d"/>
<g font-size="9.05" fill="#555">
<text x="446.7" y="385">01/02/2008</text><text x="498.7" y="385">04/2008</text><text x="565.1" y="385">07/2008</text><text x="631.9" y="385">10/2008</text><text x="719.4" y="385" clip-path="url(#cx)">03/06/2009</text>
<text x="437.4" y="253">0</text>
<text transform="translate(384.4 311) rotate(-90)" fill="#666" font-size="8.73">Ref Period Change %</text>
</g>
</svg>
<svg class="b" style="left:371px;top:411px" width="399" height="154" viewBox="371 411 399 154" font-family="Liberation Sans, sans-serif">
<path d="M491.5 416.8V531H759.5" stroke="#dcdcdc" stroke-width="1" fill="none"/>
<path d="M564.8 531V533M638.1 531V533M711.4 531V533" stroke="#d0d0d0" stroke-width="1"/>
<rect x="492" y="419.00" width="4.0" height="11" fill="#3cb043"/><rect x="492" y="433.37" width="265.7" height="11" fill="#3cb043"/><rect x="492" y="447.74" width="190.5" height="11" fill="#2a7fc1"/><rect x="492" y="462.11" width="128.2" height="11" fill="#d03238"/><rect x="492" y="476.48" width="201.8" height="11" fill="#d03238"/><rect x="492" y="490.85" width="57.5" height="11" fill="#3cb043"/><rect x="492" y="505.22" width="40.1" height="11" fill="#3cb043"/><rect x="492" y="519.59" width="17.2" height="11" fill="#e2792f"/>
<rect x="759" y="416.8" width="4.8" height="111.6" rx="2.4" fill="#ececec"/>
<rect x="759" y="417.6" width="4.8" height="8.6" rx="2.4" fill="#b3b3b3"/>
<g font-size="8.71" fill="#555"><text x="379" y="426.9">Alcohol</text><text x="436.4" y="426.90">East</text><text x="436.4" y="441.27">Greater Lo...</text><text x="436.4" y="455.64">Midlands</text><text x="436.4" y="470.01">North East</text><text x="436.4" y="484.38">North West</text><text x="436.4" y="498.75">South</text><text x="436.4" y="513.12">South East</text><text x="436.4" y="527.49">South West</text>
<text x="493" y="542.2">0</text><text x="557.2" y="542.2">5 M</text><text x="628.7" y="542.2">10 M</text><text x="702" y="542.2">15 M</text>
<text x="608.9" y="555.2">Revenue</text></g>
</svg>
</body></html>
